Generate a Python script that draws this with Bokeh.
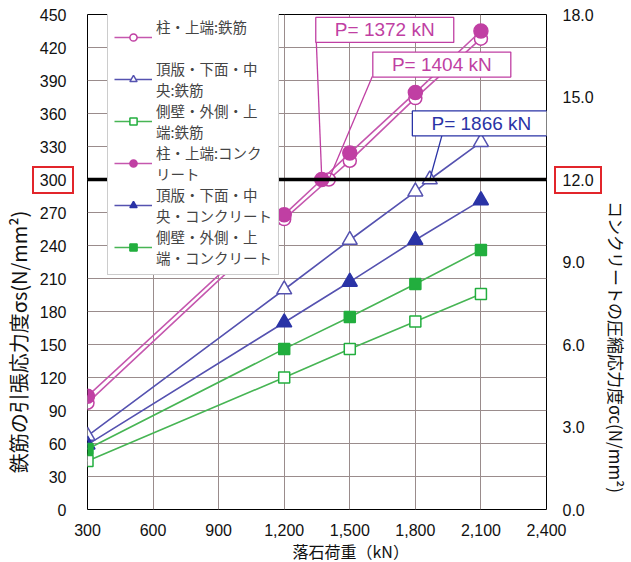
from bokeh.plotting import figure
from bokeh.models import (Range1d, LinearAxis, FixedTicker, NumeralTickFormatter,
                          Span, Legend, LegendItem, Title, InlineStyleSheet)
from bokeh.embed import file_html
from bokeh.resources import INLINE
from bokeh.core.properties import value

# ---- data ----
x_ticks = [300, 600, 900, 1200, 1500, 1800, 2100, 2400]
ys_ticks = [0, 30, 60, 90, 120, 150, 180, 210, 240, 270, 300, 330, 360, 390, 420, 450]
yc_ticks = [0, 3, 6, 9, 12, 15, 18]

rebar_col_x = [300, 1200, 1404, 1500, 1800, 2100]
rebar_col_y = [97, 264, 300, 317, 374, 428]
rebar_slab_x = [300, 1200, 1500, 1800, 1866, 2100]
rebar_slab_y = [67, 200, 245, 289, 300, 334]
rebar_wall_x = [300, 1200, 1500, 1800, 2100]
rebar_wall_y = [44, 120, 146, 171, 196]
conc_col_x = [300, 1200, 1372, 1500, 1800, 2100]
conc_col_y = [4.12, 10.72, 12.0, 12.96, 15.16, 17.40]
conc_slab_x = [300, 1200, 1500, 1800, 2100]
conc_slab_y = [2.36, 6.80, 8.28, 9.80, 11.24]
conc_wall_x = [300, 1200, 1500, 1800, 2100]
conc_wall_y = [2.20, 5.84, 7.00, 8.20, 9.44]

limit_steel = 300
limit_conc = 12.0

names = ["柱・上端:鉄筋\n ", "頂版・下面・中\n央:鉄筋", "側壁・外側・上\n端:鉄筋",
         "柱・上端:コンク\nリート", "頂版・下面・中\n央・コンクリート", "側壁・外側・上\n端・コンクリート"]

x_title = "落石荷重（kN）"
ys_title = "鉄筋の引張応力度σs(N/mm²)"
yc_title = "コンクリートの圧縮応力度σc(N/mm²)"

callout_text = ["P= 1372 kN", "P= 1404 kN", "P= 1866 kN"]
callout_px = [1372, 1404, 1866]
callout_box_x = [1660, 1921, 2102]
callout_box_y = [436, 404.5, 351]
callout_corner_x = [1347, 1603, 1923]
callout_corner_y = [424.5, 393.6, 341]

PINK = "#C03FA3"
PINK_L = "#C557AE"
BLUE = "#2A33A6"
BLUE_L = "#5552B0"
GREEN = "#22AE3E"
GREEN_L = "#47B554"
RED = "#E2252B"
JP = "Noto Sans CJK JP"
NUM = "Liberation Sans"
SP = "\u3000"

p = figure(frame_width=459, frame_height=495, x_range=Range1d(300, 2400), y_range=Range1d(0, 450),
           output_backend="svg", toolbar_location=None,
           min_border_left=82, min_border_right=76, min_border_top=14, min_border_bottom=46)
p.extra_y_ranges = {"conc": Range1d(0, 18)}
p.outline_line_color = "black"
p.outline_line_width = 1
p.background_fill_color = "white"
p.border_fill_color = "white"

# axes
xa = p.xaxis[0]
xa.ticker = FixedTicker(ticks=x_ticks)
xa.formatter = NumeralTickFormatter(format="0,0")
ya = p.yaxis[0]
ya.ticker = FixedTicker(ticks=ys_ticks)
ya.axis_label = ys_title + SP * 8
ra = LinearAxis(y_range_name="conc", ticker=FixedTicker(ticks=yc_ticks),
                formatter=NumeralTickFormatter(format="0.0"))
p.add_layout(ra, "right")
ra.axis_label = SP * 10 + yc_title
for ax in (xa, ya, ra):
    ax.axis_line_color = None
    ax.major_tick_line_color = None
    ax.minor_tick_line_color = None
    ax.major_label_text_font = NUM
    ax.major_label_text_font_size = "16px"
    ax.major_label_text_color = "#111111"
    ax.axis_label_text_font = JP
    ax.axis_label_text_font_style = "normal"
    ax.axis_label_text_color = "#111111"
xa.major_label_standoff = 8
ya.major_label_standoff = 15
ya.axis_label_standoff = 4
ya.axis_label_text_font_size = "20px"
ra.major_label_standoff = 10
ra.axis_label_standoff = 7
ra.axis_label_text_font_size = "17px"

# x-axis title (sits under the 1,500 tick as in the reference)
p.add_layout(Title(text=x_title, align="left", offset=205, text_font=JP, text_font_size="16px",
                   text_font_style="normal", text_color="#111111", standoff=-3), "below")

p.xgrid.ticker = FixedTicker(ticks=x_ticks)
p.ygrid.ticker = FixedTicker(ticks=ys_ticks)
for g in (p.xgrid, p.ygrid):
    g.grid_line_color = "#9a8c8c"
    g.grid_line_width = 1

p.add_layout(Span(location=limit_steel, dimension="width", line_color="black", line_width=3.5))

# series
items = []
def series(xs, ys, marker, color, lcolor, size, filled, rng, name):
    kw = {} if rng is None else {"y_range_name": rng}
    l = p.line(xs, ys, line_color=lcolor, line_width=1.6, **kw)
    s = p.scatter(xs, ys, marker=marker, size=size, line_color=color, line_width=1.5,
                  fill_color=color if filled else "white", **kw)
    items.append(LegendItem(label=name, renderers=[l, s]))

series(rebar_col_x, rebar_col_y, "circle", PINK, PINK_L, 13, False, None, names[0])
series(rebar_slab_x, rebar_slab_y, "triangle", BLUE_L, BLUE_L, 15, False, None, names[1])
series(rebar_wall_x, rebar_wall_y, "square", GREEN, GREEN_L, 11, False, None, names[2])
series(conc_col_x, conc_col_y, "circle", PINK, PINK_L, 14, True, "conc", names[3])
series(conc_slab_x, conc_slab_y, "triangle", BLUE, BLUE_L, 15, True, "conc", names[4])
series(conc_wall_x, conc_wall_y, "square", GREEN, GREEN_L, 11, True, "conc", names[5])

legend = Legend(items=items, location=(20, 234), label_text_font=JP, label_text_font_size="14.5px",
                glyph_width=38, glyph_height=18, label_height=34, spacing=0, padding=6,
                border_line_color="#9a9a9a", border_line_width=1, background_fill_alpha=1,
                label_standoff=4, margin=0)
p.add_layout(legend)

# callouts
cc = [PINK, PINK, BLUE]
ys_pt = [limit_steel, limit_steel, limit_steel]
p.segment(x0=callout_corner_x, y0=callout_corner_y, x1=callout_px, y1=ys_pt, line_color=cc, line_width=1.3)
p.rect(x=callout_box_x, y=callout_box_y, width=138, height=25, width_units="screen",
       height_units="screen", fill_color="white", line_color=cc, line_width=1.3)
p.text(x=callout_box_x, y=callout_box_y, text=callout_text, text_align="center", text_baseline="middle",
       text_font=value(NUM), text_font_size="19px", text_color=cc)

# red frames around the 300 and 12.0 tick labels (page decoration, outside the plot frame)
p.stylesheets = [InlineStyleSheet(css=f"""
:host {{ position: relative; }}
:host::before, :host::after {{
  content: ""; position: absolute; top: 166px; height: 28px; box-sizing: border-box;
  border: 2px solid {RED}; pointer-events: none; z-index: 100;
}}
:host::before {{ left: 32px; width: 42px; }}
:host::after {{ left: 554px; width: 48px; }}
""")]

open("out.html", "w").write(file_html(p, INLINE))
